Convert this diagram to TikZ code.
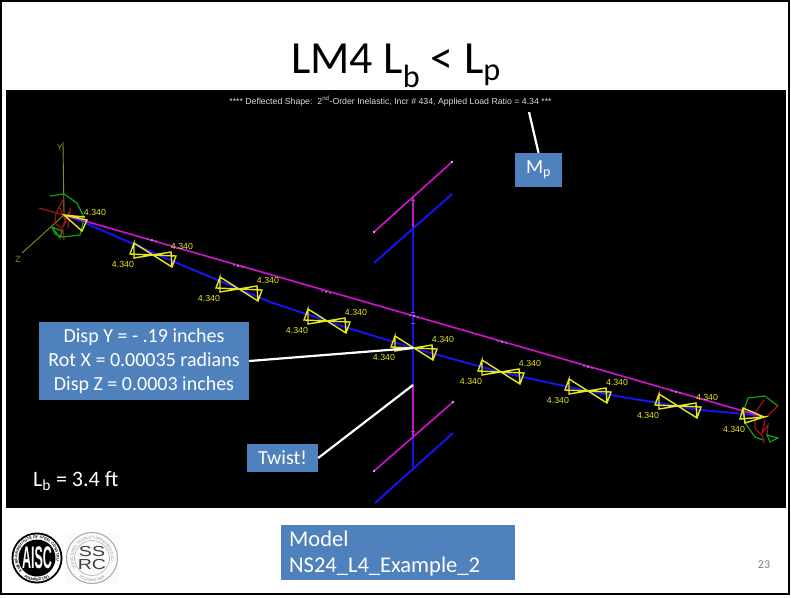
\documentclass[tikz,border=0pt]{standalone}
\usepackage{fontspec}
\setmainfont{Carlito}
\newfontfamily\viewerfont{Liberation Sans}
\usetikzlibrary{decorations.text}

\definecolor{notebox}{HTML}{4F81BD}
\definecolor{loadyellow}{HTML}{E6E61E}
\definecolor{axisolive}{HTML}{8C8C28}
\definecolor{flangeblue}{HTML}{1414F0}
\definecolor{flangepink}{HTML}{C814C8}
\definecolor{speck}{HTML}{9C8CC8}
\definecolor{momentred}{HTML}{A01414}
\definecolor{momentgreen}{HTML}{14A014}

\tikzset{
  note/.style={fill=notebox,text=white,inner sep=0pt,font=\fontsize{20}{24}\selectfont,align=center},
  leader/.style={draw=white,line width=2.2pt},
  load/.style={draw=loadyellow,line width=1.4pt},
  loadlabel/.style={text=loadyellow,inner sep=0pt,font=\viewerfont\fontsize{8.8}{10}\selectfont},
  topflange/.style={draw=flangepink,line width=1.7pt},
  botflange/.style={draw=flangeblue,line width=2pt},
  support/.style={line width=1.2pt},
  ringtext/.style={decorate,decoration={text along path,text align=center,text color=#1}}
}
\newcommand{\specks}[2]{\fill[speck] (#1-4,#2-1) circle (0.9);\fill[white!70!speck] (#1,#2) circle (0.9);\fill[speck] (#1+4,#2+1) circle (0.9);}

\begin{document}
\begin{tikzpicture}[x=1pt,y=-1pt]
    \useasboundingbox (0,0) rectangle (791,597);
    \fill[white] (0,0) rectangle (791,597);
    \draw[line width=1.4pt] (1,1) rectangle (789,594);
    \fill[black] (6,90) rectangle (786,508);

    \node (title) at (396,66) {\fontsize{46}{50}\selectfont LM4 L\textsubscript{b} < L\textsubscript{p}};
    \node[text=white!85!black,inner sep=0pt,font=\viewerfont\fontsize{8.75}{10}\selectfont] (header) at (390.5,101)
        {**** Deflected Shape:\ \ 2\textsuperscript{nd}-Order Inelastic, Incr \# 434, Applied Load Ratio = 4.34 ***};

    % cross beam
    \draw[topflange] (413,196)--(413,228);
    \draw[botflange] (413,228)--(413,385);
    \draw[topflange] (413,385)--(413,436);
    \draw[botflange] (413,436)--(413,467);
    \draw[topflange] (374,232)--(452,162);
    \draw[botflange] (374,263)--(452,194);
    \draw[topflange] (374,471)--(453,402);
    \draw[botflange] (375,503)--(453,433);
    \foreach \a/\b in {374/232,452/162,374/471,453/402}
      \fill[white!80!speck] (\a,\b) circle (1.2);
    \foreach \b in {200,312,323,431}
      \draw[speck!70!black,line width=0.6pt] (411,\b)--(415,\b);

    % main beam
    \draw[botflange] (64,215)--(83,222)--(177,263)--(270,302)--(345,327)--(413,348)--(500,372)
        --(587,391)--(640,400)--(700,410)--(745,414)--(764,417);
    \draw[topflange] (64,215)--(764,417);
    \specks{152}{240}
    \specks{238}{266}
    \specks{326}{292}
    \specks{414}{316}
    \specks{502}{342}
    \specks{588}{367}
    \specks{676}{392}

    % brace points
    \foreach \a/\b in {152/255,238/289,326/321,413/348,500/372,587/391,677/406}{
      \draw[load] (\a-18,\b-12)--(\a+20,\b+12)--(\a+24,\b+1)--(\a-22,\b-1)--(\a-18,\b-12)
        --(\a-18,\b+3)--(\a+19,\b-3)--(\a+20,\b+12);
      \node[loadlabel] at (\a-29,\b+9) {4.340};
      \node[loadlabel] at (\a+30,\b-9) {4.340};
    }

    % left support
    \draw[axisolive,line width=0.9pt] (63,142)--(64,215)--(22,253);
    \node[text=axisolive,inner sep=0pt,font=\viewerfont\fontsize{9}{10}\selectfont] (axisy) at (60,147) {Y};
    \node[text=axisolive,inner sep=0pt,font=\viewerfont\fontsize{9}{10}\selectfont] (axisz) at (18,259) {Z};
    \draw[momentred,support] (39,208)--(64,215);
    \draw[momentred,support] (64,198)--(56,213)--(55,223)--(63,230)--(64,240);
    \draw[momentred,support] (60,208)--(66,222)--(62,228)--(70,210)--(68,228);
    \draw[momentgreen,support] (50,196)--(64,194)--(77,203)--(83,215)--(83,223)--(80,235)--(63,237)--(55,234)--(52,227);
    \draw[momentgreen,support] (52,227)--(60,238)--(62,231)--cycle;
    \draw[load] (64,215)--(87,220)--(82,231)--(64,215)--(85,217);
    \node[loadlabel] at (95,212) {4.340};

    % right support
    \draw[momentred,support] (778,406)--(765,418);
    \draw[momentred,support] (764,400)--(755,413)--(755,428)--(763,437)--(764,443);
    \draw[momentred,support] (765,420)--(762,433)--(768,425)--(767,435);
    \draw[momentgreen,support] (778,406)--(765,396)--(748,398)--(743,413)--(745,423)--(755,437)--(763,440);
    \draw[momentgreen,support] (767,435)--(778,438)--(770,442)--cycle;
    \draw[load] (764,417)--(743,408)--(740,419)--(764,417)--(745,423)--(743,408);
    \node[loadlabel] at (734,429) {4.340};

    % notes
    \node[note,minimum width=47,minimum height=34] (mpbox) at (538.5,170) {M\textsubscript{p}};
    \coordinate (mpend) at (529,112);
    \draw[leader] (mpbox.north)--(mpend);

    \node[note,minimum width=210,minimum height=78] (dispbox) at (144,361)
        {Disp Y = - .19 inches\\Rot X = 0.00035 radians\\Disp Z = 0.0003 inches};
    \coordinate (dispend) at (413,348);
    \draw[leader] (dispbox.east)--(dispend);

    \node[note,minimum width=71,minimum height=28] (twistbox) at (282.5,458) {Twist!};
    \coordinate (twistend) at (413,385);
    \draw[leader] (twistbox.east)--(twistend);

    \node[text=white,inner sep=0pt,anchor=west,font=\fontsize{22}{26}\selectfont] (lblabel) at (33,481) {L\textsubscript{b} = 3.4 ft};

    \node[note,minimum width=234,minimum height=55,anchor=north west,align=left] (modelbox) at (281,525) {};
    \node[text=white,inner sep=0pt,anchor=west,align=left,font=\fontsize{22.5}{26}\selectfont] (modeltext) at (289,553) {Model\\NS24\_L4\_Example\_2};

    \node[text=black!50,inner sep=0pt,font=\fontsize{12}{14}\selectfont] (pageno) at (764,565) {23};

    % logos
    \fill[black] (37,558) circle (25.5);
    \fill[white] (37,558) circle (23.6);
    \fill[black] (37,558) circle (18.5);
    \path[ringtext=black,decoration={text={|\viewerfont\fontsize{3.7}{4}\selectfont\bfseries|AMERICAN INSTITUTE OF STEEL CONSTRUCTION}}]
        (37,558) ++(170:19.6) arc[start angle=170,end angle=370,radius=19.6];
    \path[ringtext=black,decoration={text={|\viewerfont\fontsize{3.7}{4}\selectfont\bfseries|FOUNDED 1921}}]
        (37,558) ++(150:23) arc[start angle=150,end angle=30,radius=23];
    \node[text=white,inner sep=0pt,yscale=2.5,font=\viewerfont\bfseries\fontsize{12.5}{14}\selectfont] (aisc) at (37,558) {AISC};

    \fill[black!2] (66,533) rectangle (119,584);
    \draw[black!35,line width=1pt] (92,558) circle (25.5);
    \draw[black!30,line width=0.6pt] (92,558) circle (17.5);
    \path[ringtext=black!45,decoration={text={|\viewerfont\fontsize{3.6}{4}\selectfont|STRUCTURAL STABILITY RESEARCH COUNCIL}}]
        (92,558) ++(170:19) arc[start angle=170,end angle=370,radius=19];
    \path[ringtext=black!45,decoration={text={|\viewerfont\fontsize{3.6}{4}\selectfont|FOUNDED 1944}}]
        (92,558) ++(150:23.5) arc[start angle=150,end angle=30,radius=23.5];
    \node[text=black!75,inner sep=0pt,align=center,xscale=1.35,font=\viewerfont\fontsize{14.5}{12.5}\selectfont] (ssrc) at (92,558) {SS\\RC};
\end{tikzpicture}
\end{document}
